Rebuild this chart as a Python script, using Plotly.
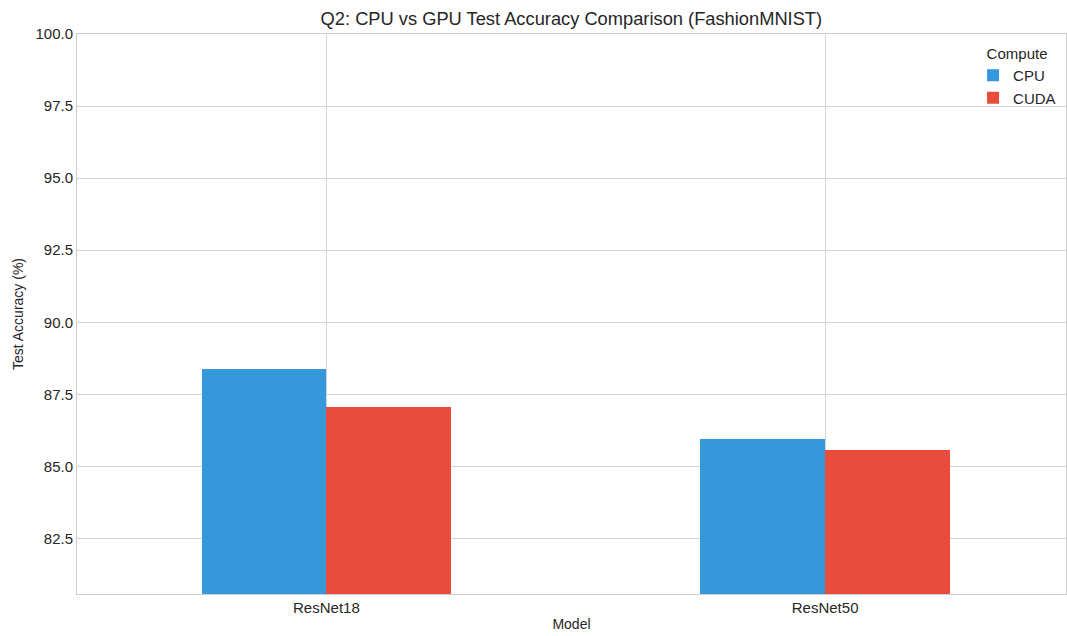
import plotly.graph_objects as go

models = ["ResNet18", "ResNet50"]
cpu_acc = [88.38, 85.96]
cuda_acc = [87.05, 85.56]
y_ticks = [82.5, 85.0, 87.5, 90.0, 92.5, 95.0, 97.5, 100.0]

x_idx = list(range(len(models)))
bw = 0.25

fig = go.Figure()
fig.add_trace(go.Bar(x=[i - bw / 2 for i in x_idx], y=cpu_acc, width=bw, name="CPU",
                     marker=dict(color="#3498db", line=dict(width=0))))
fig.add_trace(go.Bar(x=[i + bw / 2 for i in x_idx], y=cuda_acc, width=bw, name="CUDA",
                     marker=dict(color="#e74c3c", line=dict(width=0))))

font = "Liberation Sans, Arial, sans-serif"
fig.update_layout(
    width=1067, height=636,
    margin=dict(l=77, r=1, t=34, b=42),
    paper_bgcolor="white", plot_bgcolor="white",
    font=dict(family=font, size=15, color="#262626"),
    title=dict(text="Q2: CPU vs GPU Test Accuracy Comparison (FashionMNIST)",
               x=0.5355, xanchor="center", y=0.971, yanchor="middle",
               font=dict(size=18.3, color="#262626")),
    barmode="overlay",
    bargap=0,
    showlegend=True,
    legend=dict(title=dict(text="Compute", side="top center", font=dict(size=15)),
                x=0.995, xanchor="right", y=0.99, yanchor="top",
                bgcolor="rgba(255,255,255,0)", font=dict(size=15),
                itemwidth=30),
    xaxis=dict(range=[-0.5, 1.483], tickvals=x_idx, ticktext=models,
               showgrid=True, gridcolor="#d4d4d4", gridwidth=1,
               showline=True, linecolor="#cccccc", linewidth=1, mirror=True,
               ticks="", zeroline=False, tickfont=dict(size=15),
               title=dict(text="Model", standoff=4, font=dict(size=14))),
    yaxis=dict(range=[80.575, 100], tickvals=y_ticks, tickformat=".1f",
               showgrid=True, gridcolor="#d4d4d4", gridwidth=1,
               showline=True, linecolor="#cccccc", linewidth=1, mirror=True,
               ticks="", zeroline=False, tickfont=dict(size=15),
               title=dict(text="Test Accuracy (%)", standoff=8, font=dict(size=14))),
)

fig.write_html("out.html", config={"displayModeBar": False},
               post_script="document.body.style.margin='0';")
